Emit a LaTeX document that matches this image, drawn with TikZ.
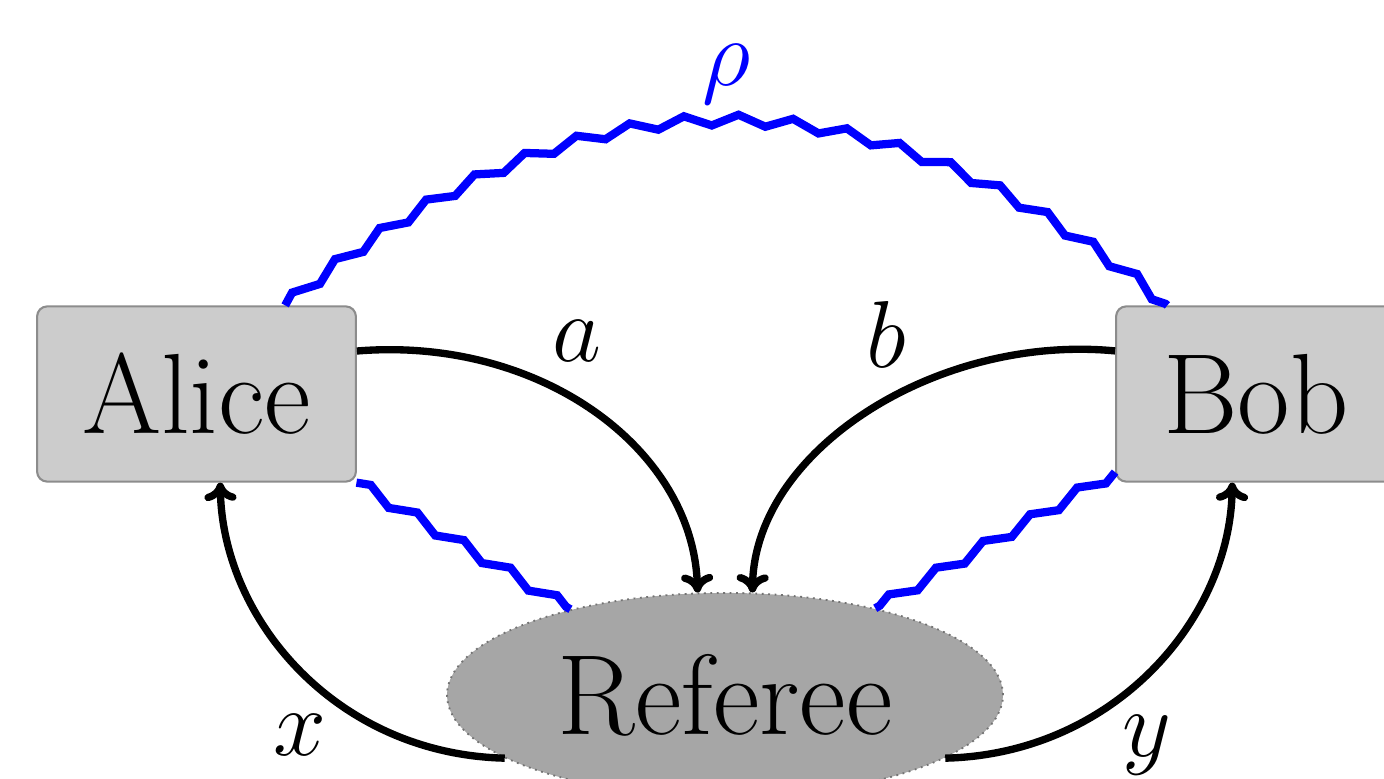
\documentclass[tikz,border=0pt]{standalone}
\usetikzlibrary{shapes.geometric,decorations.pathmorphing,arrows.meta}
\begin{document}
\begin{tikzpicture}[x=0.218pt,y=-0.218pt,
  box/.style={draw=black!45, fill=black!20, line width=0.45pt, rounded corners=2.2pt, minimum height=38.2pt, inner sep=0pt, font=\Huge},
  refnode/.style={ellipse, draw=black!55, densely dotted, fill=black!35, line width=0.4pt, minimum width=121.2pt, minimum height=44.5pt, inner sep=0pt, font=\Huge},
  arr/.style={line width=1.6pt, -{Computer Modern Rightarrow[length=4pt,width=7pt]}},
  wave/.style={blue, line width=1.8pt, decorate, decoration={zigzag, segment length=11.8pt, amplitude=1.16pt}},
  lbl/.style={font=\huge, inner sep=0pt}]
\path[use as bounding box] (0,0) rectangle (1384,779);
\clip (0,0) rectangle (1384,779);
\node[box, minimum width=69.5pt] (alice) at (196.5,394) {Alice};
\node[box, minimum width=61pt] (bob) at (1256,394) {Bob};
\node[refnode] (ref) at (725,695) {Referee};
\draw[wave] (alice.45) .. controls +(294,-247) and +(-294,-247) .. (bob.135);
\draw[wave] (alice.-29) -- (ref.151);
\draw[wave] (bob.209) -- (ref.30);
\draw[arr] (alice.15) .. controls +(184,-15) and +(-4,-143) .. (ref.105);
\draw[arr] (bob.163) .. controls +(-177,-17) and +(2,-143) .. (ref.75);
\draw[arr] (ref.196) .. controls +(-168,-4) and +(2,137) .. (alice.-75);
\draw[arr] (ref.-16) .. controls +(168,-4) and +(-2,137) .. (bob.-105);
\node[lbl] (la) at (577,341) {$a$};
\node[lbl] (lb) at (886,334) {$b$};
\node[lbl, text=blue] (lrho) at (727,74) {$\rho$};
\node[lbl] (lx) at (300,735) {$x$};
\node[lbl] (ly) at (1147,745) {$y$};
\end{tikzpicture}
\end{document}
